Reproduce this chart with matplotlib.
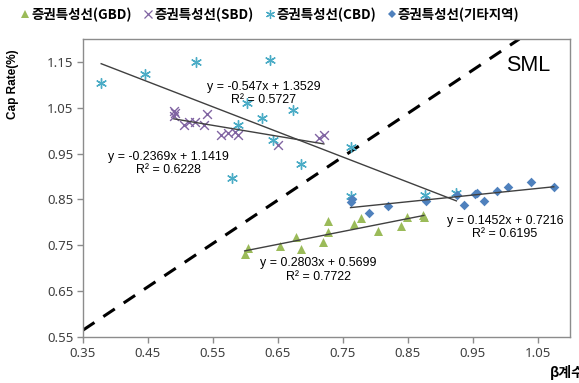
import matplotlib
matplotlib.use("Agg")
import matplotlib.pyplot as plt
import numpy as np
from matplotlib.lines import Line2D

# ---------------- data ----------------
gbd_x = [0.599, 0.604, 0.654, 0.678, 0.685, 0.720, 0.727, 0.728, 0.768, 0.778, 0.804, 0.840, 0.849, 0.874, 0.875]
gbd_y = [0.732, 0.745, 0.748, 0.768, 0.741, 0.757, 0.803, 0.779, 0.796, 0.809, 0.781, 0.792, 0.811, 0.817, 0.811]

sbd_x = [0.490, 0.491, 0.490, 0.506, 0.513, 0.522, 0.536, 0.541, 0.562, 0.574, 0.584, 0.589, 0.650, 0.714, 0.721]
sbd_y = [1.043, 1.038, 1.033, 1.012, 1.018, 1.020, 1.012, 1.037, 0.990, 0.995, 0.997, 0.991, 0.968, 0.985, 0.990]

cbd_x = [0.378, 0.446, 0.524, 0.638, 0.603, 0.674, 0.625, 0.589, 0.643, 0.685, 0.580, 0.762, 0.763, 0.876, 0.925]
cbd_y = [1.103, 1.124, 1.149, 1.154, 1.060, 1.045, 1.027, 1.012, 0.980, 0.928, 0.897, 0.964, 0.858, 0.859, 0.864]

oth_x = [0.762, 0.764, 0.791, 0.820, 0.879, 0.926, 0.937, 0.954, 0.957, 0.967, 0.988, 1.005, 1.040, 1.075]
oth_y = [0.845, 0.851, 0.820, 0.836, 0.847, 0.860, 0.839, 0.861, 0.864, 0.846, 0.869, 0.878, 0.887, 0.877]

# trendline coefficients (slope, intercept) as printed
cbd_fit = (-0.547, 1.3529)
sbd_fit = (-0.2369, 1.1419)
gbd_fit = (0.2803, 0.5699)
oth_fit = (0.1452, 0.7216)

sml_x = [0.35, 1.022]
sml_y = [0.565, 1.20]

labels = ["증권특성선(GBD)", "증권특성선(SBD)", "증권특성선(CBD)", "증권특성선(기타지역)"]
eq_texts = {
    "cbd": ("y = -0.547x + 1.3529", "R² = 0.5727"),
    "sbd": ("y = -0.2369x + 1.1419", "R² = 0.6228"),
    "gbd": ("y = 0.2803x + 0.5699", "R² = 0.7722"),
    "oth": ("y = 0.1452x + 0.7216", "R² = 0.6195"),
}
xticks = [0.35, 0.45, 0.55, 0.65, 0.75, 0.85, 0.95, 1.05]
yticks = [0.55, 0.65, 0.75, 0.85, 0.95, 1.05, 1.15]

# ---------------- style ----------------
c_gbd = "#9BBB59"
c_sbd = "#8064A2"
c_cbd = "#4BACC6"
c_oth = "#4F81BD"
c_trend = "#404040"
c_spine = "#8C8C8C"

fig = plt.figure(figsize=(5.79, 3.83), dpi=100)
ax = fig.add_axes([83/579, 1-337/383, (570-83)/579, (337-39)/383])

ax.set_xlim(0.35, 1.10)
ax.set_ylim(0.55, 1.20)

# SML dashed line
ax.plot(sml_x, sml_y, color="black", lw=2.2, ls=(0, (4.5, 3.5)), zorder=2)

# trendlines
def trend(xs, fit):
    x0, x1 = min(xs), max(xs)
    xx = np.array([x0, x1])
    ax.plot(xx, fit[0]*xx + fit[1], color=c_trend, lw=1.0, zorder=4)

trend(cbd_x, cbd_fit)
trend(sbd_x, sbd_fit)
trend(gbd_x, gbd_fit)
trend(oth_x, oth_fit)

# scatter
ax.scatter(gbd_x, gbd_y, marker="^", s=42, color=c_gbd, zorder=3, linewidths=0)
ax.scatter(sbd_x, sbd_y, marker="x", s=40, color=c_sbd, zorder=3, linewidths=1.0)
ax.scatter(cbd_x, cbd_y, marker=(6, 2, 0), s=50, color=c_cbd, zorder=3, linewidths=1.0)
ax.scatter(oth_x, oth_y, marker="D", s=24, color=c_oth, zorder=3, linewidths=0)

# equations
eq_font = dict(family="Liberation Sans", size=8.9, color="black", ha="center", va="center", zorder=5)
ax.text(0.628, 1.095, eq_texts["cbd"][0], **eq_font)
ax.text(0.628, 1.067, eq_texts["cbd"][1], **eq_font)
ax.text(0.481, 0.942, eq_texts["sbd"][0], **eq_font)
ax.text(0.481, 0.915, eq_texts["sbd"][1], **eq_font)
ax.text(0.713, 0.711, eq_texts["gbd"][0], **eq_font)
ax.text(0.713, 0.681, eq_texts["gbd"][1], **eq_font)
ax.text(1.000, 0.803, eq_texts["oth"][0], **eq_font)
ax.text(1.000, 0.775, eq_texts["oth"][1], **eq_font)

ax.text(1.036, 1.143, "SML", family="Liberation Sans", size=15.5, ha="center", va="center")

# axes styling
for s in ax.spines.values():
    s.set_color(c_spine)
    s.set_linewidth(1.0)
ax.set_xticks(xticks)
ax.set_yticks(yticks)
ax.set_xticklabels([f"{v:.2f}" for v in xticks])
ax.set_yticklabels([f"{v:.2f}" for v in yticks])
ax.tick_params(direction="out", length=4, width=1, color=c_spine, labelcolor="#404040",
               labelsize=9.5, pad=3)
for lab in ax.get_xticklabels() + ax.get_yticklabels():
    lab.set_family("Noto Sans")

# axis labels
fig.text(13/579, 1-84/383, "Cap Rate(%)", rotation=90, ha="center", va="center",
         family="Liberation Sans", weight="bold", size=8.5)
fig.text(550/579, 1-373/383, "β계수", ha="left", va="center",
         family=["Noto Sans CJK KR", "DejaVu Sans"], weight="bold", size=10)

# legend
handles = [
    Line2D([], [], ls="none", marker="^", ms=5.5, color=c_gbd, mew=0),
    Line2D([], [], ls="none", marker="x", ms=5.5, color=c_sbd, mew=0.9),
    Line2D([], [], ls="none", marker=(6, 2, 0), ms=6.5, color=c_cbd, mew=0.9),
    Line2D([], [], ls="none", marker="D", ms=4, color=c_oth, mew=0),
]
leg = fig.legend(handles, labels, loc="center", bbox_to_anchor=(271/579, 1-15/383), ncol=4,
                 frameon=False, handlelength=0.45, handletextpad=0.25, columnspacing=0.95,
                 prop=dict(family=["Noto Sans CJK KR", "DejaVu Sans"], weight="bold", size=9.7))

fig.savefig("out.png", dpi=100)
